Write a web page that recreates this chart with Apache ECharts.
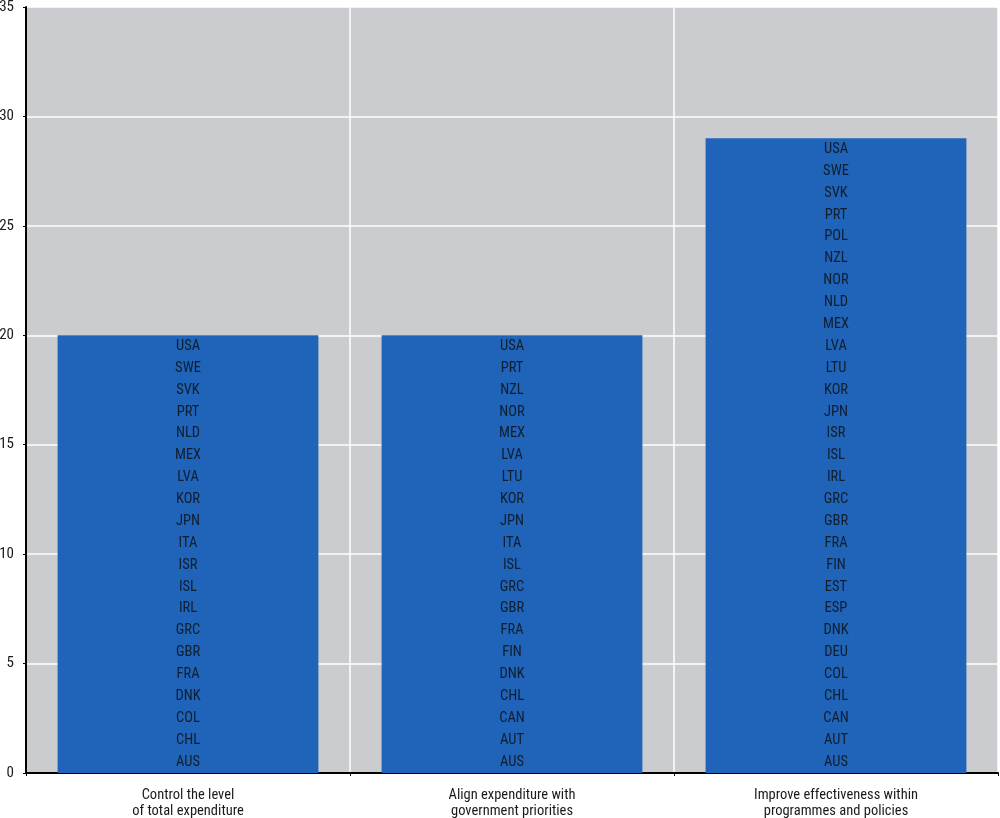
<!DOCTYPE html>
<html>
<head>
<meta charset="utf-8">
<script src="https://cdn.jsdelivr.net/npm/echarts@6/dist/echarts.min.js"></script>
<style>html,body{margin:0;padding:0;background:#fff}#c{width:1000px;height:818px}</style>
</head>
<body>
<div id="c"></div>
<script>
const categories = [
  "Control the level\nof total expenditure",
  "Align expenditure with\ngovernment priorities",
  "Improve effectiveness within\nprogrammes and policies"
];
const countriesControl = ["AUS","CHL","COL","DNK","FRA","GBR","GRC","IRL","ISL","ISR","ITA","JPN","KOR","LVA","MEX","NLD","PRT","SVK","SWE","USA"];
const countriesAlign = ["AUS","AUT","CAN","CHL","DNK","FIN","FRA","GBR","GRC","ISL","ITA","JPN","KOR","LTU","LVA","MEX","NOR","NZL","PRT","USA"];
const countriesImprove = ["AUS","AUT","CAN","CHL","COL","DEU","DNK","ESP","EST","FIN","FRA","GBR","GRC","IRL","ISL","ISR","JPN","KOR","LTU","LVA","MEX","NLD","NOR","NZL","POL","PRT","SVK","SWE","USA"];
const countryLists = [countriesControl, countriesAlign, countriesImprove];
const barValues = [20, 20, 29];
const yTicks = [0, 5, 10, 15, 20, 25, 30, 35];

const FONT = "'Roboto Condensed','Liberation Sans Narrow','Roboto',sans-serif";
const labelPoints = [];
countryLists.forEach((list, ci) => {
  list.forEach((name, i) => labelPoints.push({ value: [ci, i + 0.5], name: name }));
});

const chart = echarts.init(document.getElementById('c'));
chart.setOption({
  animation: false,
  textStyle: { fontFamily: FONT },
  grid: { left: 26, right: 2, top: 7, bottom: 45, show: true, backgroundColor: '#cbcccf', borderWidth: 0, containLabel: false, outerBoundsMode: 'none' },
  xAxis: {
    type: 'category',
    data: categories,
    axisLine: { lineStyle: { color: '#000', width: 2 } },
    axisTick: { show: true, interval: 0, length: 3, lineStyle: { color: '#000' } },
    splitLine: { show: true, interval: 0, lineStyle: { color: '#fff', width: 1.5 } },
    axisLabel: { interval: 0, color: '#1a1a1a', fontSize: 14.5, lineHeight: 16, margin: 14, fontFamily: FONT }
  },
  yAxis: {
    type: 'value',
    min: yTicks[0],
    max: yTicks[yTicks.length - 1],
    interval: 5,
    axisLine: { show: true, lineStyle: { color: '#000', width: 2 } },
    axisTick: { show: true, length: 3, lineStyle: { color: '#000' } },
    splitLine: { show: true, lineStyle: { color: '#fff', width: 1.5 } },
    axisLabel: { color: '#1a1a1a', fontSize: 15, margin: 12, fontFamily: FONT }
  },
  series: [
    {
      type: 'bar',
      data: barValues,
      barCategoryGap: '19.5%',
      itemStyle: { color: '#1f64b8' },
      z: 2
    },
    {
      type: 'scatter',
      data: labelPoints,
      symbolSize: 1,
      itemStyle: { color: 'rgba(0,0,0,0)' },
      label: {
        show: true,
        position: 'inside',
        formatter: p => p.name,
        color: '#0d0d0d',
        fontSize: 14.5,
        fontFamily: FONT
      },
      z: 3
    }
  ]
});
</script>
</body>
</html>
